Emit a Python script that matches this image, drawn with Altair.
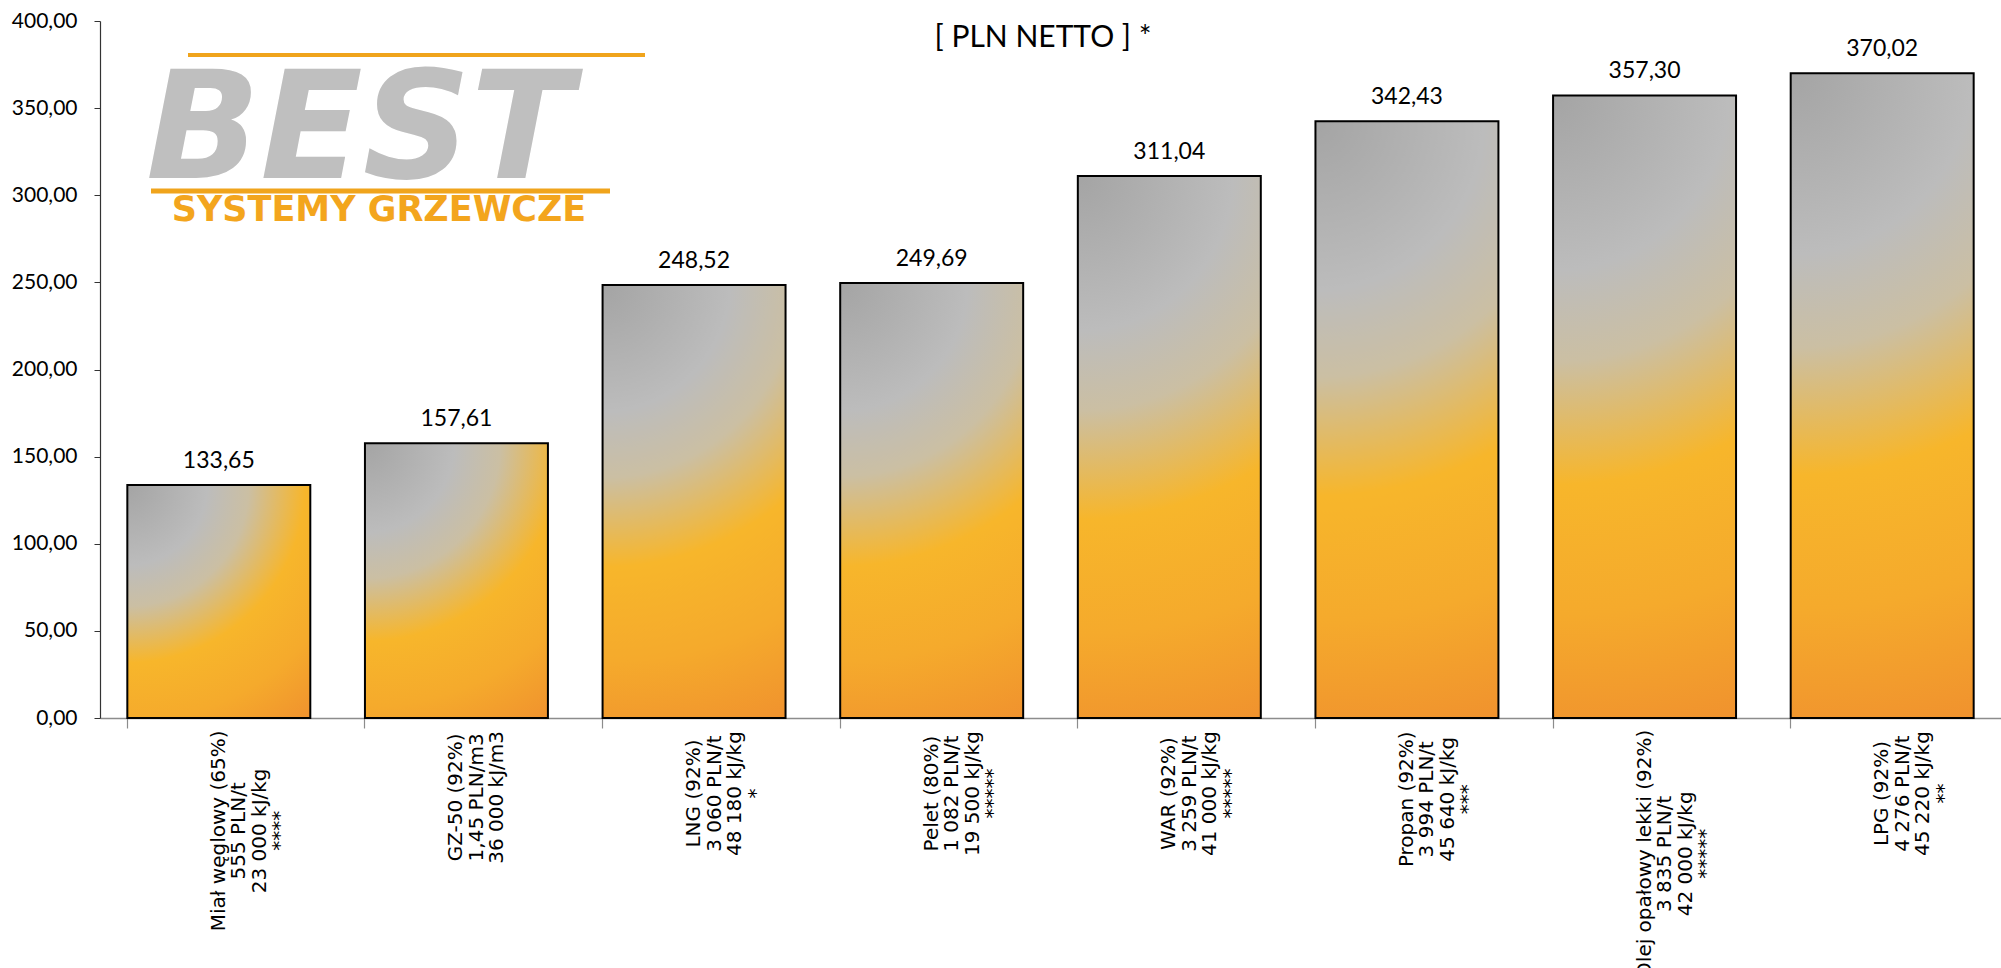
import math
import altair as alt
import pandas as pd

# ---------------- data ----------------
categories = [
    "Miał węglowy (65%)\n555 PLN/t\n23 000 kJ/kg\n****",
    "GZ-50 (92%)\n1,45 PLN/m3\n36 000 kJ/m3",
    "LNG (92%)\n3 060 PLN/t\n48 180 kJ/kg\n*",
    "Pelet (80%)\n1 082 PLN/t\n19 500 kJ/kg\n*****",
    "WAR (92%)\n3 259 PLN/t\n41 000 kJ/kg\n*****",
    "Propan (92%)\n3 994 PLN/t\n45 640 kJ/kg\n***",
    "Olej opałowy lekki (92%)\n3 835 PLN/t\n42 000 kJ/kg\n*****",
    "LPG (92%)\n4 276 PLN/t\n45 220 kJ/kg\n**",
]
values = [133.65, 157.61, 248.52, 249.69, 311.04, 342.43, 357.30, 370.02]
y_ticks = [0, 50, 100, 150, 200, 250, 300, 350, 400]
title_lines = ["[ PLN NETTO ] *"]
logo_name = ["BEST"]
logo_sub = ["SYSTEMY GRZEWCZE"]

# ---------------- layout ----------------
W, H = 1901, 697
Y_MAX = 400
PAD_INNER = 0.23
LABEL_FONT = "DejaVu Sans"
LABEL_FONT_SIZE = 20
WIDTH_FACTOR = 0.97

# approximate advance widths (em) for centring the rotated label blocks
_w = {' ': 0.318, '(': 0.390, ')': 0.390, '%': 0.950, ',': 0.318, '.': 0.318,
      '/': 0.337, '-': 0.361, '*': 0.500, 'A': 0.684, 'B': 0.686, 'C': 0.698,
      'D': 0.770, 'E': 0.632, 'G': 0.775, 'J': 0.295, 'K': 0.656, 'L': 0.557,
      'M': 0.863, 'N': 0.748, 'O': 0.787, 'P': 0.603, 'R': 0.695, 'S': 0.635,
      'T': 0.611, 'W': 0.989, 'Z': 0.685, 'a': 0.613, 'b': 0.635, 'c': 0.550,
      'd': 0.635, 'e': 0.615, 'g': 0.635, 'i': 0.278, 'j': 0.278, 'k': 0.579,
      'l': 0.278, 'm': 0.974, 'n': 0.634, 'o': 0.612, 'p': 0.635, 'r': 0.411,
      't': 0.392, 'w': 0.818, 'y': 0.592, 'ł': 0.330, 'ę': 0.615}


def text_width(s):
    return sum(_w.get(ch, 0.636 if ch.isdigit() else 0.6) for ch in s) * LABEL_FONT_SIZE * WIDTH_FACTOR


df = pd.DataFrame({"cat": categories, "value": values})
df["idx"] = list(range(len(categories)))
df["half"] = [max(text_width(line) for line in c.split("\n")) / 2 for c in categories]

# per-bar radial gradient centred at each bar's top-left corner
step = W / len(categories)
bw = step * (1 - PAD_INNER)
stops = [
    {"offset": 0.0, "color": "#a4a4a4"},
    {"offset": 0.27, "color": "#bcbcbc"},
    {"offset": 0.41, "color": "#cbbfa3"},
    {"offset": 0.60, "color": "#f7b62b"},
    {"offset": 0.80, "color": "#f5aa2c"},
    {"offset": 1.0, "color": "#f0922e"},
]


def grad_for(v):
    h = v / Y_MAX * H
    diag = math.hypot(bw, h)
    if h >= bw:
        cx, cy, r = 0.5 - bw / (2 * h), 0.0, diag / h
    else:
        cx, cy, r = 0.0, 0.5 - h / (2 * bw), diag / bw
    return {"gradient": "radial", "x1": cx, "y1": cy, "r1": 0,
            "x2": cx, "y2": cy, "r2": r, "stops": stops}


conds = [{"test": f"datum.idx === {i}", "value": grad_for(v)} for i, v in enumerate(values)]

x_enc = alt.X("cat:N", sort=None, title=None,
              scale=alt.Scale(paddingInner=PAD_INNER, paddingOuter=PAD_INNER / 2),
              axis=alt.Axis(labels=False, bandPosition=0, tickSize=10, tickColor="#8c8c8c",
                            domainColor="#8c8c8c", domainWidth=1.5, tickWidth=1.2))
y_enc = alt.Y("value:Q", title=None,
              scale=alt.Scale(domain=[0, Y_MAX], nice=False),
              axis=alt.Axis(values=y_ticks, grid=False, tickSize=6, labelPadding=17,
                            labelExpr="replace(format(datum.value, '.2f'), '.', ',')",
                            labelFont="Lato", labelFontSize=21, labelColor="#000000",
                            domainColor="#333333", tickColor="#333333", domainWidth=1.2))

base = alt.Chart(df)

bars = base.mark_bar(stroke="#000000", strokeWidth=2).encode(
    x=x_enc, y=y_enc,
    fill=alt.FillValue(value=grad_for(values[0]), condition=conds),
)

value_labels = base.transform_calculate(
    lbl="replace(format(datum.value, '.2f'), '.', ',')"
).mark_text(font="Lato", fontSize=23, dy=-17, baseline="alphabetic", color="#000000").encode(
    x=alt.X("cat:N", sort=None), y=alt.Y("value:Q"), text="lbl:N"
)

x_labels = base.mark_text(
    font=LABEL_FONT, fontSize=LABEL_FONT_SIZE, lineHeight=20.5, lineBreak="\n",
    angle=270, align="center", baseline="middle", color="#000000",
    dx=alt.ExprRef("-datum.half"),
).encode(x=alt.X("cat:N", sort=None), y=alt.value(H + 15), text="cat:N")

title = alt.Chart(pd.DataFrame({"t": title_lines})).mark_text(
    font="Lato", fontSize=30, align="center", baseline="alphabetic", color="#000000"
).encode(x=alt.value(943), y=alt.value(26), text="t:N")

logo_main = alt.Chart(pd.DataFrame({"t": logo_name})).mark_text(
    font="DejaVu Sans", fontSize=150, fontWeight="bold", fontStyle="italic",
    align="left", baseline="alphabetic", color="#bfbfbf"
).encode(x=alt.value(46), y=alt.value(157), text="t:N")

logo_text = alt.Chart(pd.DataFrame({"t": logo_sub})).mark_text(
    font="DejaVu Sans", fontSize=35, fontWeight="bold",
    align="center", baseline="alphabetic", color="#f3a51d"
).encode(x=alt.value(279), y=alt.value(200), text="t:N")

one = pd.DataFrame({"k": [0]})
rule_top = alt.Chart(one).mark_rule(color="#f0a41c", strokeWidth=4).encode(
    x=alt.value(88), x2=alt.value(545), y=alt.value(34))
rule_mid = alt.Chart(one).mark_rule(color="#f0a41c", strokeWidth=5).encode(
    x=alt.value(51), x2=alt.value(510), y=alt.value(170))

chart = alt.layer(
    bars, value_labels, x_labels, title, rule_top, logo_main, rule_mid, logo_text
).properties(
    width=W, height=H,
    autosize=alt.AutoSizeParams(type="none"),
    padding={"left": 100, "top": 21, "right": 0, "bottom": 250},
    background="#ffffff",
).configure_view(stroke=None)

chart.save("out.html", embed_options={"renderer": "svg", "actions": False})
